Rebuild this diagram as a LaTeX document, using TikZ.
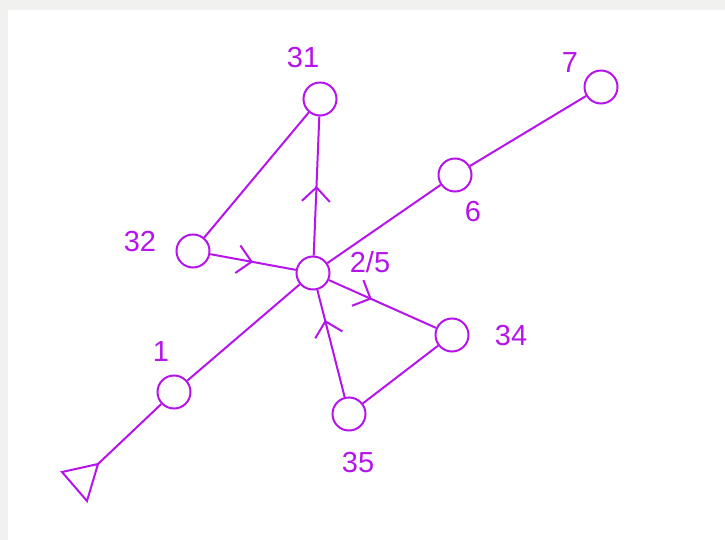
\documentclass[tikz,border=0pt]{standalone}
\usepackage{fontspec}
\setmainfont{Liberation Sans}
\usetikzlibrary{arrows.meta,decorations.markings}
\definecolor{pur}{RGB}{182,20,236}
\definecolor{bggray}{RGB}{241,242,240}
\begin{document}
\begin{tikzpicture}[x=1pt,y=-1pt,
  vtx/.style={circle,draw=pur,line width=2pt,minimum size=33pt,inner sep=0pt,fill=white},
  lbl/.style={text=pur,font=\fontsize{29}{31}\selectfont,inner sep=0pt},
  link/.style={draw=pur,line width=2pt},
  midarrow/.style={link,postaction={decorate},decoration={markings,
     mark=at position #1 with {\arrow[pur]{Straight Barb[length=14pt,width=28pt,line width=2pt]}}}}]
\useasboundingbox (0,0) rectangle (725,540);
\fill[bggray] (0,0) rectangle (725,540);
\fill[white] (8,10) rectangle (725,540);
% nodes
\node[vtx] (n31) at (320,99) {};
\node[vtx] (n7) at (601,87) {};
\node[vtx] (n6) at (455,175) {};
\node[vtx] (n32) at (193,251) {};
\node[vtx] (n25) at (313,273) {};
\node[vtx] (n34) at (452,335) {};
\node[vtx] (n1) at (174,392) {};
\node[vtx] (n35) at (349,414) {};
% triangle
\coordinate (t1) at (98,464);
\coordinate (t2) at (62,472);
\coordinate (t3) at (87,501);
\draw[link,line join=miter] (t1) -- (t2) -- (t3) -- cycle;
% labels
\node[lbl] (l31) at (303,58) {31};
\node[lbl] (l7) at (570,63) {7};
\node[lbl] (l6) at (473,212) {6};
\node[lbl] (l32) at (140,242) {32};
\node[lbl] (l25) at (370,262) {2/5};
\node[lbl] (l34) at (511,336) {34};
\node[lbl] (l1) at (161,352) {1};
\node[lbl] (l35) at (358,463) {35};
% edges
\path[link] (n31) -- (n32);
\path[midarrow=0.5] (n25) -- (n31);
\path[midarrow=0.5] (n32) -- (n25);
\path[link] (n25) -- (n6);
\path[link] (n6) -- (n7);
\path[link] (n25) -- (n1);
\path[link] (n1) -- (t1);
\path[midarrow=0.4] (n25) -- (n34);
\path[link] (n34) -- (n35);
\path[midarrow=0.72] (n35) -- (n25);
\end{tikzpicture}
\end{document}
